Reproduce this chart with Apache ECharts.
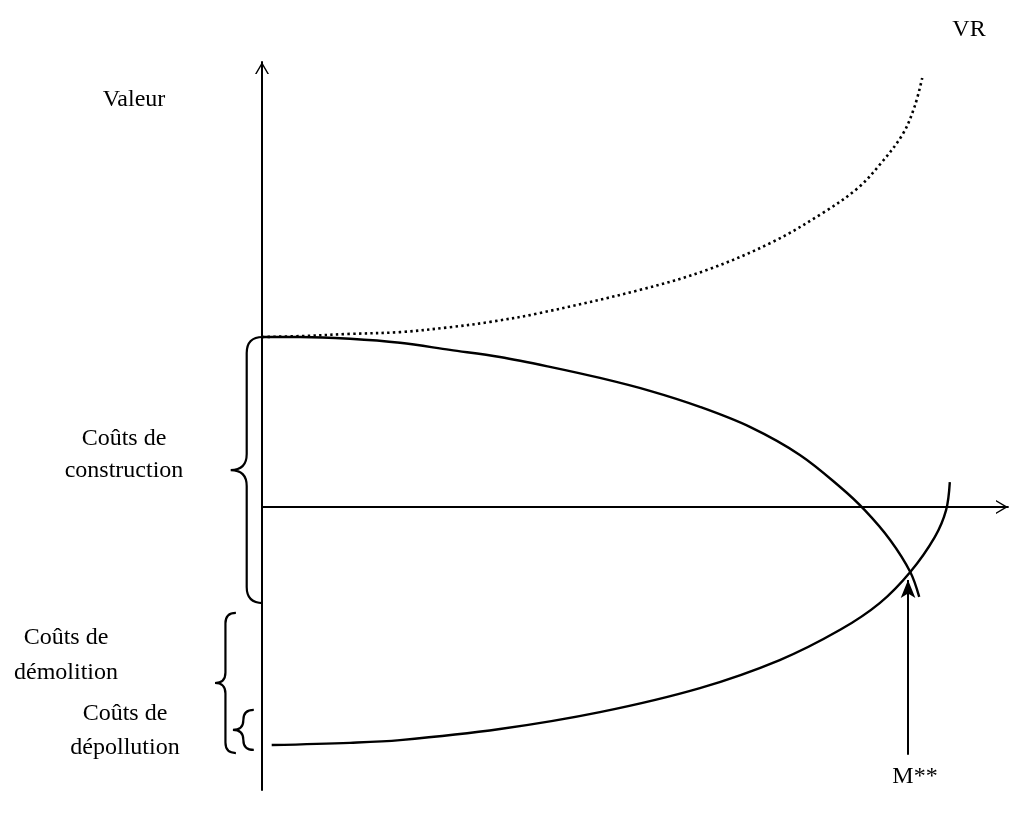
<!DOCTYPE html>
<html>
<head>
<meta charset="utf-8">
<script src="https://cdn.jsdelivr.net/npm/echarts@6/dist/echarts.min.js"></script>
<style>
html, body { margin: 0; padding: 0; background: #fff; }
#chart { width: 1011px; height: 817px; }
</style>
</head>
<body>
<div id="chart"></div>
<script>
// VR (courbe en pointillés)
var vrX = [0, 5.1, 11.8, 18.5, 25.2, 30.6, 37.3, 50.7, 59.7, 68.5, 75.2, 79.9, 82.8, 85.9, 87.5, 88.5];
var vrY = [38.2, 38.4, 38.9, 39.3, 40.4, 41.6, 43.6, 48.8, 53.3, 59.6, 66.1, 71.7, 76.9, 83.8, 90.1, 96.4];

// coûts de construction (courbe décroissante)
var constrX = [0, 5.1, 11.8, 18.5, 25.2, 31.9, 38.6, 45.3, 52.0, 58.7, 65.4, 72.1, 77.5, 80.8, 84.2, 86.9, 88.1];
var constrY = [38.2, 38.2, 37.8, 36.9, 35.3, 33.7, 31.5, 29.0, 26.1, 22.5, 18.0, 11.7, 4.5, -0.7, -7.4, -14.6, -20.2];

// coûts de démolition + dépollution (courbe croissante)
var demolX = [1.3, 11.8, 18.5, 31.9, 45.3, 58.7, 69.4, 77.5, 82.8, 86.9, 90.2, 91.7, 92.2];
var demolY = [-53.5, -53.0, -52.4, -49.9, -46.1, -40.7, -34.4, -27.6, -21.6, -14.6, -6.7, -0.7, 5.6];

// accolades : bord droit, pointe, haut, bas
var braceRight = [0.1, -3.5, -1.1];
var braceTip = [-4.2, -6.3, -3.9];
var braceTop = [38.2, -23.8, -45.6];
var braceBottom = [-21.6, -55.3, -54.6];

// flèche M**
var mArrowX = 86.6;
var mArrowFrom = -55.7;
var mArrowTo = -16.4;

function zip(xs, ys) {
  return xs.map(function (x, i) { return [x, ys[i]]; });
}

var chart = echarts.init(document.getElementById('chart'));
var FONT = '24px "Liberation Serif", "DejaVu Serif", serif';
var chevron = 'path://M0,12 L7,0 L14,12 L12.4,12 L7,2.8 L1.6,12 Z';

function renderBrace(params, api) {
  var top = api.coord([api.value(0), api.value(2)]);
  var bot = api.coord([api.value(0), api.value(3)]);
  var tip = api.coord([api.value(1), (api.value(2) + api.value(3)) / 2]);
  var xr = top[0], yt = top[1], yb = bot[1], xt = tip[0], ym = tip[1];
  var xm = (xr + xt) / 2;
  var k = Math.min(xr - xm, (yb - yt) / 4);
  var d = 'M' + xr + ',' + yt +
    ' Q' + xm + ',' + yt + ' ' + xm + ',' + (yt + k) +
    ' L' + xm + ',' + (ym - k) +
    ' Q' + xm + ',' + ym + ' ' + xt + ',' + ym +
    ' Q' + xm + ',' + ym + ' ' + xm + ',' + (ym + k) +
    ' L' + xm + ',' + (yb - k) +
    ' Q' + xm + ',' + yb + ' ' + xr + ',' + yb;
  return {
    type: 'path',
    shape: { pathData: d },
    style: { stroke: '#000', fill: null, lineWidth: 2.2 }
  };
}

function label(text, x, y, lh) {
  return {
    type: 'text',
    x: x,
    y: y,
    style: {
      text: text,
      font: FONT,
      fill: '#000',
      lineHeight: lh || 33,
      align: 'center',
      verticalAlign: 'middle',
      textAlign: 'center',
      textVerticalAlign: 'middle'
    }
  };
}

var option = {
  animation: false,
  backgroundColor: '#fff',
  grid: { left: 262, top: 62, width: 746, height: 728 },
  xAxis: {
    type: 'value',
    min: 0,
    max: 100,
    axisLine: {
      onZero: true,
      symbol: ['none', chevron],
      symbolSize: [14, 12],
      symbolOffset: [0, -6],
      lineStyle: { color: '#000', width: 1.8 }
    },
    axisTick: { show: false },
    axisLabel: { show: false },
    splitLine: { show: false }
  },
  yAxis: {
    type: 'value',
    min: -63.6,
    max: 100,
    axisLine: {
      show: true,
      onZero: false,
      symbol: ['none', chevron],
      symbolSize: [14, 12],
      symbolOffset: [0, -6],
      lineStyle: { color: '#000', width: 2 }
    },
    axisTick: { show: false },
    axisLabel: { show: false },
    splitLine: { show: false }
  },
  graphic: [
    label('Valeur', 134, 100),
    label('VR', 969, 30),
    label('Coûts de\nconstruction', 124, 455, 32),
    label('Coûts de\ndémolition', 66, 655, 35),
    label('Coûts de\ndépollution', 125, 731, 34),
    label('M**', 915, 777)
  ],
  series: [
    {
      type: 'line',
      data: zip(vrX, vrY),
      smooth: 0.35,
      showSymbol: false,
      lineStyle: { color: '#000', width: 2.6, type: [2.4, 3.3] }
    },
    {
      type: 'line',
      data: zip(constrX, constrY),
      smooth: 0.35,
      showSymbol: false,
      lineStyle: { color: '#000', width: 2.4 }
    },
    {
      type: 'line',
      data: zip(demolX, demolY),
      smooth: 0.35,
      showSymbol: false,
      lineStyle: { color: '#000', width: 2.4 },
      markLine: {
        silent: true,
        symbol: ['none', 'arrow'],
        symbolSize: [11, 18],
        label: { show: false },
        lineStyle: { color: '#000', width: 2, type: 'solid' },
        data: [[{ coord: [mArrowX, mArrowFrom] }, { coord: [mArrowX, mArrowTo] }]]
      }
    },
    {
      type: 'custom',
      renderItem: renderBrace,
      data: braceRight.map(function (r, i) {
        return [r, braceTip[i], braceTop[i], braceBottom[i]];
      })
    }
  ]
};

chart.setOption(option);
</script>
</body>
</html>
